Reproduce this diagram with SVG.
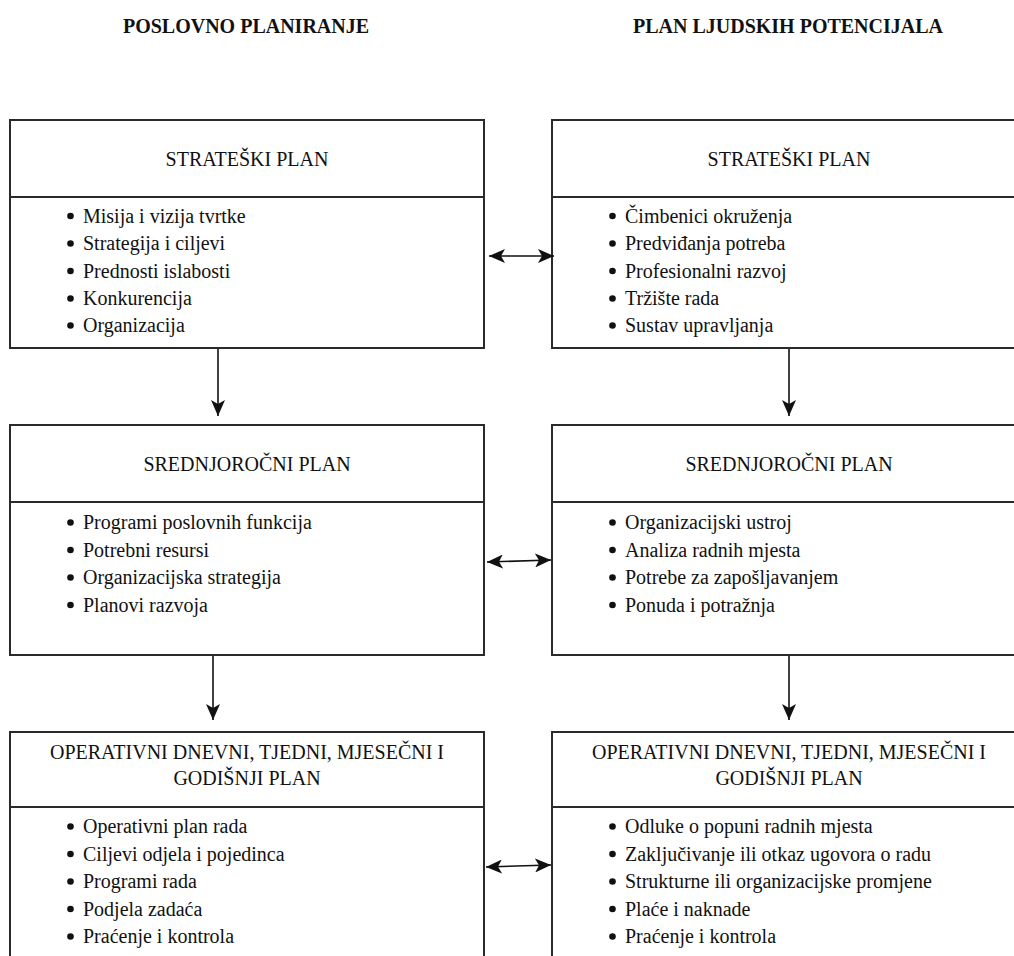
<svg xmlns="http://www.w3.org/2000/svg" width="1014" height="956" viewBox="0 0 1014 956" font-family="Liberation Serif, Tinos, Times New Roman, DejaVu Serif, serif">
<style>
text{font-family:'Liberation Serif','Tinos','Times New Roman','DejaVu Serif',serif;font-size:20px;fill:#111}
.h{font-weight:bold}
.t{text-anchor:middle}
.box{fill:#fff;stroke:#2a2a2a;stroke-width:2}
.div{stroke:#2a2a2a;stroke-width:2}
.dot{fill:#111}
.c{stroke:#111;stroke-width:1.6;fill:none}
</style>
<defs>
<marker id="ah" viewBox="0 0 16 14" refX="16" refY="7" markerWidth="16" markerHeight="14" markerUnits="userSpaceOnUse" orient="auto-start-reverse">
<path d="M0,0 L16,7 L0,14 L4,7 Z" fill="#111"/>
</marker>
</defs>
<rect width="1014" height="956" fill="#fff"/>
<g id="headers">
<text class="h t" x="246" y="33">POSLOVNO PLANIRANJE</text>
<text class="h t" x="788" y="33">PLAN LJUDSKIH POTENCIJALA</text>
</g>
<g id="left-strategic">
<rect class="box" x="10" y="120" width="474" height="228"/>
<line class="div" x1="10" y1="197" x2="484" y2="197"/>
<text class="t" x="247" y="166">STRATEŠKI PLAN</text>
<circle class="dot" cx="70.5" cy="216" r="3.3"/><text x="83" y="222.5">Misija i vizija tvrtke</text>
<circle class="dot" cx="70.5" cy="243.5" r="3.3"/><text x="83" y="250">Strategija i ciljevi</text>
<circle class="dot" cx="70.5" cy="271" r="3.3"/><text x="83" y="277.5">Prednosti islabosti</text>
<circle class="dot" cx="70.5" cy="298.5" r="3.3"/><text x="83" y="305">Konkurencija</text>
<circle class="dot" cx="70.5" cy="325.5" r="3.3"/><text x="83" y="332">Organizacija</text>
</g>
<g id="right-strategic">
<rect class="box" x="552" y="120" width="474" height="228"/>
<line class="div" x1="552" y1="197" x2="1026" y2="197"/>
<text class="t" x="789" y="166">STRATEŠKI PLAN</text>
<circle class="dot" cx="612.5" cy="216" r="3.3"/><text x="625" y="222.5">Čimbenici okruženja</text>
<circle class="dot" cx="612.5" cy="243.5" r="3.3"/><text x="625" y="250">Predviđanja potreba</text>
<circle class="dot" cx="612.5" cy="271" r="3.3"/><text x="625" y="277.5">Profesionalni razvoj</text>
<circle class="dot" cx="612.5" cy="298.5" r="3.3"/><text x="625" y="305">Tržište rada</text>
<circle class="dot" cx="612.5" cy="325.5" r="3.3"/><text x="625" y="332">Sustav upravljanja</text>
</g>
<g id="left-medium">
<rect class="box" x="10" y="425" width="474" height="230"/>
<line class="div" x1="10" y1="502" x2="484" y2="502"/>
<text class="t" x="247" y="471">SREDNJOROČNI PLAN</text>
<circle class="dot" cx="70.5" cy="522.5" r="3.3"/><text x="83" y="529">Programi poslovnih funkcija</text>
<circle class="dot" cx="70.5" cy="550" r="3.3"/><text x="83" y="556.5">Potrebni resursi</text>
<circle class="dot" cx="70.5" cy="577.5" r="3.3"/><text x="83" y="584">Organizacijska strategija</text>
<circle class="dot" cx="70.5" cy="605" r="3.3"/><text x="83" y="611.5">Planovi razvoja</text>
</g>
<g id="right-medium">
<rect class="box" x="552" y="425" width="474" height="230"/>
<line class="div" x1="552" y1="502" x2="1026" y2="502"/>
<text class="t" x="789" y="471">SREDNJOROČNI PLAN</text>
<circle class="dot" cx="612.5" cy="522.5" r="3.3"/><text x="625" y="529">Organizacijski ustroj</text>
<circle class="dot" cx="612.5" cy="550" r="3.3"/><text x="625" y="556.5">Analiza radnih mjesta</text>
<circle class="dot" cx="612.5" cy="577.5" r="3.3"/><text x="625" y="584">Potrebe za zapošljavanjem</text>
<circle class="dot" cx="612.5" cy="605" r="3.3"/><text x="625" y="611.5">Ponuda i potražnja</text>
</g>
<g id="left-operative">
<rect class="box" x="10" y="732" width="474" height="240"/>
<line class="div" x1="10" y1="807" x2="484" y2="807"/>
<text class="t" x="247" y="759">OPERATIVNI DNEVNI, TJEDNI, MJESEČNI I</text>
<text class="t" x="247" y="785">GODIŠNJI PLAN</text>
<circle class="dot" cx="70.5" cy="826.5" r="3.3"/><text x="83" y="833">Operativni plan rada</text>
<circle class="dot" cx="70.5" cy="854" r="3.3"/><text x="83" y="860.5">Ciljevi odjela i pojedinca</text>
<circle class="dot" cx="70.5" cy="881.5" r="3.3"/><text x="83" y="888">Programi rada</text>
<circle class="dot" cx="70.5" cy="909" r="3.3"/><text x="83" y="915.5">Podjela zadaća</text>
<circle class="dot" cx="70.5" cy="936.5" r="3.3"/><text x="83" y="943">Praćenje i kontrola</text>
</g>
<g id="right-operative">
<rect class="box" x="552" y="732" width="474" height="240"/>
<line class="div" x1="552" y1="807" x2="1026" y2="807"/>
<text class="t" x="789" y="759">OPERATIVNI DNEVNI, TJEDNI, MJESEČNI I</text>
<text class="t" x="789" y="785">GODIŠNJI PLAN</text>
<circle class="dot" cx="612.5" cy="826.5" r="3.3"/><text x="625" y="833">Odluke o popuni radnih mjesta</text>
<circle class="dot" cx="612.5" cy="854" r="3.3"/><text x="625" y="860.5">Zaključivanje ili otkaz ugovora o radu</text>
<circle class="dot" cx="612.5" cy="881.5" r="3.3"/><text x="625" y="888">Strukturne ili organizacijske promjene</text>
<circle class="dot" cx="612.5" cy="909" r="3.3"/><text x="625" y="915.5">Plaće i naknade</text>
<circle class="dot" cx="612.5" cy="936.5" r="3.3"/><text x="625" y="943">Praćenje i kontrola</text>
</g>
<g id="connectors">
<line class="c" x1="218" y1="349" x2="218" y2="416" marker-end="url(#ah)"/>
<line class="c" x1="789" y1="349" x2="789" y2="416" marker-end="url(#ah)"/>
<line class="c" x1="213" y1="656" x2="213" y2="720" marker-end="url(#ah)"/>
<line class="c" x1="789" y1="656" x2="789" y2="720" marker-end="url(#ah)"/>
<line class="c" x1="489" y1="256" x2="554" y2="256" marker-start="url(#ah)" marker-end="url(#ah)"/>
<line class="c" x1="487" y1="562" x2="551" y2="560" marker-start="url(#ah)" marker-end="url(#ah)"/>
<line class="c" x1="486" y1="867" x2="551" y2="865" marker-start="url(#ah)" marker-end="url(#ah)"/>
</g>
</svg>
